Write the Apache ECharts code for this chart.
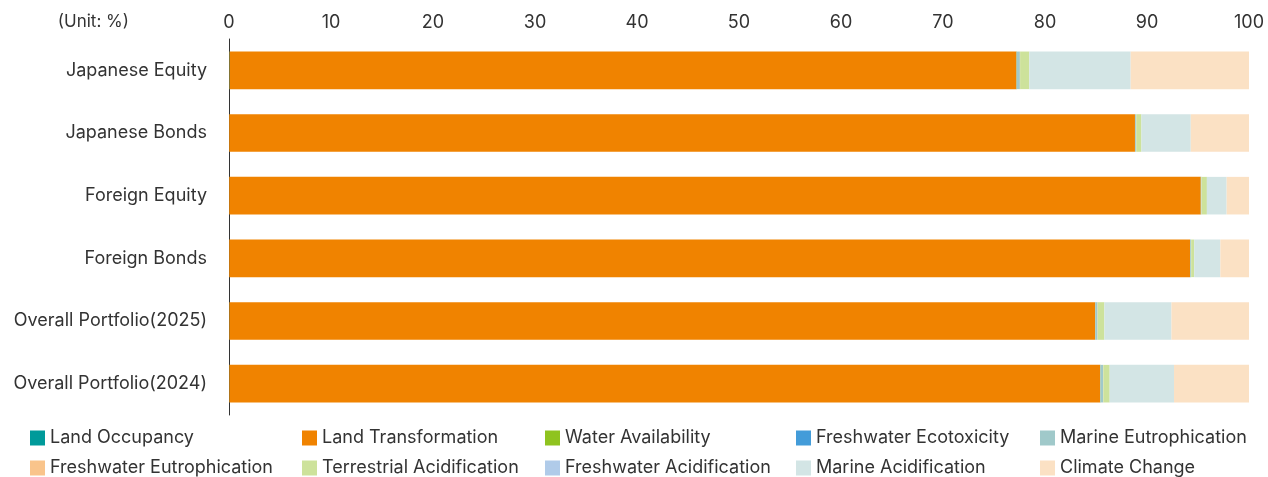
<!DOCTYPE html>
<html>
<head>
<meta charset="utf-8">
<script src="https://cdn.jsdelivr.net/npm/echarts@6/dist/echarts.min.js"></script>
<style>
  html, body { margin: 0; padding: 0; background: #fff; }
  #chart { width: 1268px; height: 477px; }
</style>
</head>
<body>
<div id="chart"></div>
<script>
// Portfolio categories (top to bottom)
const categories = [
  'Japanese Equity',
  'Japanese Bonds',
  'Foreign Equity',
  'Foreign Bonds',
  'Overall Portfolio(2025)',
  'Overall Portfolio(2024)'
];

// Share of each impact category (%), one value per portfolio
const landOccupancy            = [0.05, 0.02, 0.02, 0.02, 0.03, 0.03];
const landTransformation       = [77.15, 88.8, 95.25, 94.2, 84.88, 85.38];
const waterAvailability        = [0.02, 0.01, 0.01, 0.01, 0.02, 0.02];
const freshwaterEcotoxicity    = [0.02, 0.01, 0.01, 0.01, 0.02, 0.02];
const marineEutrophication     = [0.3, 0.1, 0.05, 0.08, 0.2, 0.25];
const freshwaterEutrophication = [0.02, 0.01, 0.01, 0.01, 0.02, 0.02];
const terrestrialAcidification = [0.9, 0.5, 0.52, 0.3, 0.65, 0.62];
const freshwaterAcidification  = [0.01, 0.01, 0.01, 0.01, 0.01, 0.01];
const marineAcidification      = [9.93, 4.83, 1.93, 2.55, 6.57, 6.3];
const climateChange            = [11.6, 5.71, 2.19, 2.81, 7.6, 7.35];

const xTicks = [0, 10, 20, 30, 40, 50, 60, 70, 80, 90, 100];

const seriesDefs = [
  ['Land Occupancy', landOccupancy, '#009a9a'],
  ['Land Transformation', landTransformation, '#f08300'],
  ['Water Availability', waterAvailability, '#8fc31f'],
  ['Freshwater Ecotoxicity', freshwaterEcotoxicity, '#439cd9'],
  ['Marine Eutrophication', marineEutrophication, '#a0c9ca'],
  ['Freshwater Eutrophication', freshwaterEutrophication, '#f9c48b'],
  ['Terrestrial Acidification', terrestrialAcidification, '#cde29b'],
  ['Freshwater Acidification', freshwaterAcidification, '#b0cbe9'],
  ['Marine Acidification', marineAcidification, '#d3e5e5'],
  ['Climate Change', climateChange, '#fbe1c4']
];

const FONT = 'Inter, "Noto Sans CJK JP", sans-serif';
const TEXT = '#333';

const series = seriesDefs.map(([name, data, color]) => ({
  name: name,
  type: 'bar',
  stack: 'total',
  barWidth: '60%',
  data: data,
  itemStyle: { color: color },
  emphasis: { disabled: true }
}));

// Legend: five columns, two rows, one legend component per entry
const columnX = [30, 302, 545, 796, 1040];
const rowY = [429, 459];
const legends = seriesDefs.map((def, i) => ({
  left: columnX[i % 5],
  top: rowY[Math.floor(i / 5)],
  itemWidth: 15,
  itemHeight: 15,
  icon: 'rect',
  selectedMode: false,
  padding: 0,
  textStyle: { fontFamily: FONT, fontSize: 18, color: TEXT },
  data: [def[0]]
}));

const chart = echarts.init(document.getElementById('chart'));
chart.setOption({
  animation: false,
  textStyle: { fontFamily: FONT },
  grid: { left: 229, right: 19, top: 39, bottom: 62 },
  graphic: [{
    type: 'text',
    x: 129,
    y: 22,
    style: {
      text: '(Unit: %)',
      font: '17px ' + FONT,
      fill: TEXT,
      align: 'right',
      verticalAlign: 'middle',
      textAlign: 'right',
      textVerticalAlign: 'middle'
    }
  }],
  legend: legends,
  xAxis: {
    type: 'value',
    position: 'top',
    min: xTicks[0],
    max: xTicks[xTicks.length - 1],
    interval: 10,
    axisLine: { show: false },
    axisTick: { show: false },
    splitLine: { show: false },
    axisLabel: { fontSize: 18, color: TEXT, margin: 7, fontFamily: FONT }
  },
  yAxis: {
    type: 'category',
    inverse: true,
    data: categories,
    axisLine: { show: true, lineStyle: { color: '#333', width: 1 } },
    axisTick: { show: false },
    axisLabel: { fontSize: 18, color: TEXT, margin: 22, fontFamily: FONT }
  },
  series: series
});
</script>
</body>
</html>
